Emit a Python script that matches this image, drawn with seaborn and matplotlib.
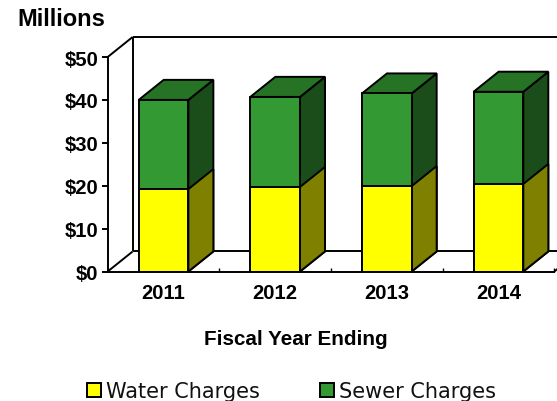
#!/usr/bin/env python3
import matplotlib
matplotlib.use("Agg")
import matplotlib.pyplot as plt
import pandas as pd
import seaborn as sns
from matplotlib.patches import Patch, Polygon
from matplotlib.ticker import MultipleLocator

years = ["2011", "2012", "2013", "2014"]
water_charges = [19.2, 19.7, 19.9, 20.4]
sewer_charges = [20.8, 21.0, 21.6, 21.5]
y_ticks = [0, 10, 20, 30, 40, 50]
y_labels = ["$0", "$10", "$20", "$30", "$40", "$50"]

YELLOW = "#ffff00"
YELLOW_SIDE = "#808000"
GREEN = "#339933"
GREEN_TOP = "#267326"
GREEN_SIDE = "#1a4d1a"

W, H = 557, 402
DEPTH_X = 25 / 111.67  # pseudo 3D depth in data units
DEPTH_Y = 20 / 4.28
LW = 1.4


def add_faces(ax, bar, side_color, top_color=None):
    x0, x1 = bar.get_x(), bar.get_x() + bar.get_width()
    y0, y1 = bar.get_y(), bar.get_y() + bar.get_height()
    side = [(x1, y0), (x1 + DEPTH_X, y0 + DEPTH_Y), (x1 + DEPTH_X, y1 + DEPTH_Y), (x1, y1)]
    ax.add_patch(Polygon(side, facecolor=side_color, edgecolor="black", lw=LW, zorder=3, clip_on=False))
    if top_color:
        top = [(x0, y1), (x0 + DEPTH_X, y1 + DEPTH_Y), (x1 + DEPTH_X, y1 + DEPTH_Y), (x1, y1)]
        ax.add_patch(Polygon(top, facecolor=top_color, edgecolor="black", lw=LW, zorder=3, clip_on=False))


def main():
    sns.set_theme(style="white")
    plt.rcParams["font.family"] = ["Liberation Sans", "DejaVu Sans"]

    df = pd.DataFrame({"year": years, "water": water_charges, "sewer": sewer_charges})
    df["total"] = df["water"] + df["sewer"]

    fig = plt.figure(figsize=(W / 100, H / 100), dpi=100)
    ax = fig.add_axes([107.7 / W, 1 - 272.5 / H, (554.3 - 107.7) / W, (272.5 - 58) / H])

    sns.barplot(data=df, x="year", y="total", color=GREEN, saturation=1, width=0.445,
                edgecolor="black", linewidth=LW, ax=ax, zorder=4)
    sns.barplot(data=df, x="year", y="water", color=YELLOW, saturation=1, width=0.445,
                edgecolor="black", linewidth=LW, ax=ax, zorder=5)

    green_bars = ax.containers[0]
    yellow_bars = ax.containers[1]
    for bar in green_bars:
        add_faces(ax, bar, GREEN_SIDE, GREEN_TOP)
    for bar in yellow_bars:
        add_faces(ax, bar, YELLOW_SIDE)

    ax.set_xlim(-0.5, 3.5)
    ax.set_ylim(0, 50)

    # back wall and floor of the box
    xl, xr = -0.5, 3.5
    wall = dict(color="black", lw=LW, zorder=1, clip_on=False, solid_capstyle="butt")
    ax.plot([xl, xl + DEPTH_X], [50, 50 + DEPTH_Y], **wall)
    ax.plot([xl, xl + DEPTH_X], [0, DEPTH_Y], **wall)
    ax.plot([xr, xr + DEPTH_X], [0, DEPTH_Y], **wall)
    ax.plot([xl + DEPTH_X, xl + DEPTH_X], [DEPTH_Y, 50 + DEPTH_Y], **wall)
    ax.plot([xl + DEPTH_X, xr + DEPTH_X], [50 + DEPTH_Y, 50 + DEPTH_Y], **wall)
    ax.plot([xl + DEPTH_X, xr + DEPTH_X], [DEPTH_Y, DEPTH_Y], **wall)

    for side in ["top", "right"]:
        ax.spines[side].set_visible(False)
    for side in ["left", "bottom"]:
        ax.spines[side].set_linewidth(LW)
        ax.spines[side].set_color("black")
        ax.spines[side].set_zorder(6)

    ax.set_yticks(y_ticks)
    ax.set_yticklabels(y_labels, fontsize=14.6, fontweight="bold", color="black")
    ax.tick_params(axis="y", left=True, length=4.5, width=LW, pad=2, color="black")
    ax.xaxis.set_minor_locator(MultipleLocator(0.5))
    ax.tick_params(axis="x", which="major", bottom=False, pad=2.5)
    ax.tick_params(axis="x", which="minor", bottom=True, direction="in", length=3, width=1, color="black", zorder=7)
    ax.set_xticks(range(len(years)))
    ax.set_xticklabels(years, fontsize=14.6, fontweight="bold", color="black")

    ax.set_xlabel("Fiscal Year Ending", fontsize=14.9, fontweight="bold", color="black")
    ax.xaxis.set_label_coords((295.5 - 107.7) / (554.3 - 107.7), -(340 - 272.5) / (272.5 - 58), transform=ax.transAxes)
    ax.xaxis.label.set_va("center")
    ax.set_ylabel("")

    fig.text(17 / W, 1 - 19 / H, "Millions", fontsize=17, fontweight="bold", color="black", va="center")

    handles = [
        Patch(facecolor=YELLOW, edgecolor="black", lw=LW, label="Water Charges"),
        Patch(facecolor=GREEN, edgecolor="black", lw=LW, label="Sewer Charges"),
    ]
    leg = fig.legend(handles=handles, ncol=2, frameon=False, loc="center left",
                     bbox_to_anchor=(68 / W, 1 - 392.5 / H), prop={"family": "DejaVu Sans", "size": 15},
                     handlelength=0.67, handleheight=0.67, handletextpad=0.25, columnspacing=2.9)
    for text in leg.get_texts():
        text.set_color("#111111")

    fig.savefig("out.png", dpi=100)
    plt.close(fig)


if __name__ == "__main__":
    main()
